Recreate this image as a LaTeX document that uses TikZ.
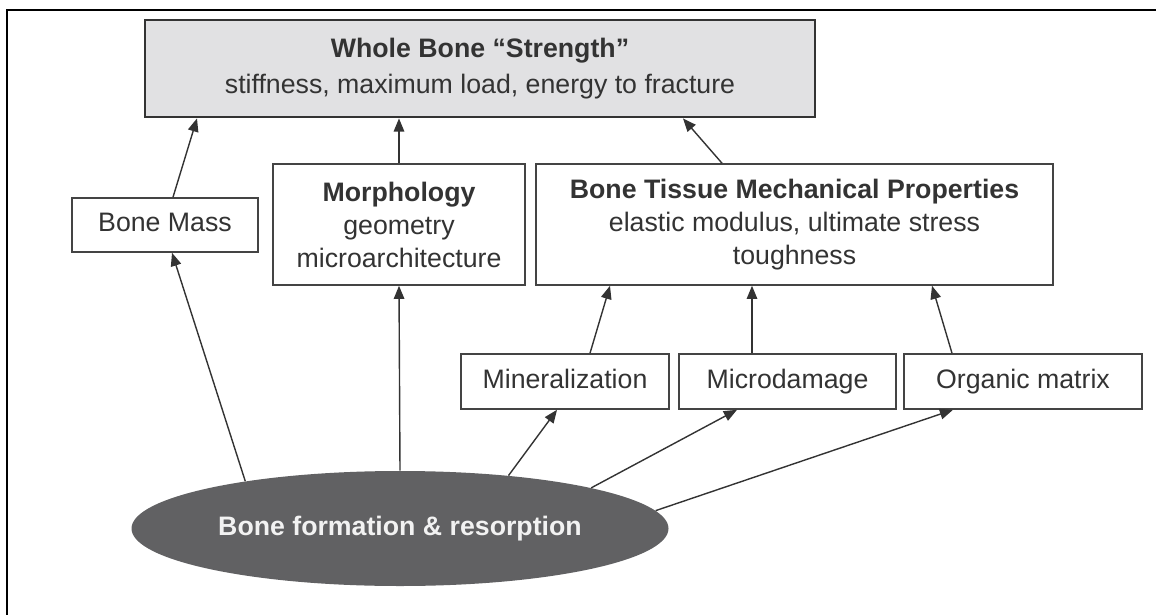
\documentclass[tikz,border=0pt]{standalone}
\usepackage{fontspec}
\setmainfont{Liberation Sans}
\usetikzlibrary{arrows.meta,positioning,calc,shapes.geometric}
\definecolor{BoneInk}{HTML}{333333}
\definecolor{BoneEdge}{HTML}{444444}
\definecolor{BoneFill}{HTML}{E1E1E3}
\definecolor{BoneDark}{HTML}{616163}
\definecolor{BoneText}{HTML}{F2F2F2}

\begin{document}
\begin{tikzpicture}[
    box/.style={
      draw=BoneEdge,
      line width=0.9pt,
      fill=white,
      inner sep=0pt,
      font=\fontsize{15.2}{18.8}\selectfont,
      text=BoneInk,
      align=center
    },
    tag/.style={
      box,
      minimum height=1.1cm,
      text height=11pt,
      text depth=3.5pt
    },
    blob/.style={
      ellipse,
      fill=BoneDark,
      minimum width=10.74cm,
      minimum height=2.3cm,
      inner sep=0pt,
      font=\fontsize{15.2}{18.8}\selectfont\bfseries,
      text=BoneText
    },
    arr/.style={
      -{Triangle[length=7.5pt,width=6pt]},
      line width=0.8pt,
      color=BoneInk
    }
  ]
  \useasboundingbox (0,0) rectangle (23.12,-12.3);

  % Frame
  \draw[line width=1.7pt] (0.14,-12.3) -- (0.14,-0.2) -- (23.12,-0.2);

  % Whole bone
  \node[box, fill=BoneFill, draw=BoneInk, line width=1.6pt,
        minimum width=13.4cm, minimum height=1.94cm] (whole) at (9.6,-1.37)
    {\textbf{Whole Bone ``Strength''}\\[2pt]stiffness, maximum load, energy to fracture};

  % Second row
  \node[tag, minimum width=3.72cm, minimum height=1.08cm] (mass) at (3.3,-4.5)
    {Bone Mass};
  \node[box, minimum width=5.04cm, minimum height=2.42cm] (morph) at (7.98,-4.49)
    {\textbf{Morphology}\\geometry\\microarchitecture};
  \node[box, minimum width=10.34cm, minimum height=2.42cm] (tissue) at (15.89,-4.49)
    {\textbf{Bone Tissue Mechanical Properties}\\elastic modulus, ultimate stress\\toughness};

  % Tissue components
  \node[tag, minimum width=4.16cm] (miner) at (11.3,-7.63) {Mineralization};
  \node[tag, minimum width=4.34cm] (micro) at (15.75,-7.63) {Microdamage};
  \node[tag, minimum width=4.76cm] (organic) at (20.46,-7.63) {Organic matrix};

  % Remodeling
  \node[blob] (form) at (8.0,-10.57) {Bone formation \& resorption};

  % Arrows to whole bone
  \draw[arr] ($(mass.north)+(0.16,0)$) -- ($(whole.south)+(-5.66,0)$);
  \draw[arr] (morph.north) -- (morph.north |- whole.south);
  \draw[arr] ($(tissue.north)+(-1.45,0)$) -- ($(whole.south)+(4.06,0)$);

  % Arrows to tissue properties
  \draw[arr] ($(miner.north)+(0.5,0)$) -- ($(tissue.south)+(-3.69,0)$);
  \draw[arr] ($(micro.north)+(-0.71,0)$) -- ($(tissue.south)+(-0.85,0)$);
  \draw[arr] ($(organic.north)+(-1.42,0)$) -- ($(tissue.south)+(2.75,0)$);

  % Arrows from formation and resorption
  \draw[arr] (form.163) -- ($(mass.south)+(0.14,0)$);
  \draw[arr] (form.north) -- (morph.south);
  \draw[arr] (form.26) -- ($(miner.south)+(-0.16,0)$);
  \draw[arr] (form.12) -- ($(micro.south)+(-1.01,0)$);
  \draw[arr] (form.4) -- ($(organic.south)+(-1.4,0)$);
\end{tikzpicture}
\end{document}
